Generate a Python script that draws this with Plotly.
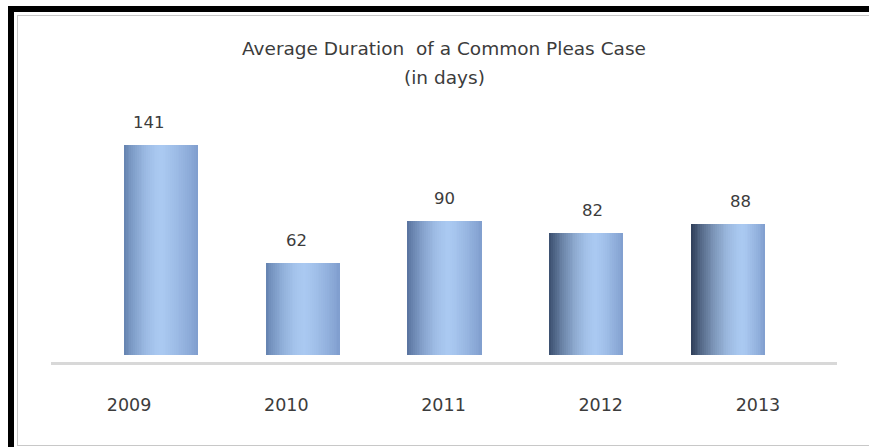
import plotly.graph_objects as go

# ---- data ----
years = ["2009", "2010", "2011", "2012", "2013"]
durations = [141, 62, 90, 82, 88]
title_line1 = "Average Duration  of a Common Pleas Case"
title_line2 = "(in days)"

# ---- geometry helpers (pixel -> paper) ----
W_FIG, H_FIG = 869, 447


def px(x):
    return x / W_FIG


def py(y):
    return 1 - y / H_FIG


FONT = "DejaVu Sans"
TXT = "#3c3c3c"

# ---- cylinder-like shading for bars ----
bar_width = 0.522
n_strips = 40
left_cols = [(100, 130, 175), (100, 130, 175), (88, 114, 158), (58, 78, 110), (46, 62, 88)]
highlight = (170, 201, 241)
right_col = (128, 158, 206)
hl_pos = [0.5, 0.52, 0.56, 0.63, 0.7]


def mix(a, b, t):
    return tuple(a[k] + (b[k] - a[k]) * t for k in range(3))


def strip_color(i, t):
    h = hl_pos[i]
    if t <= h:
        s = t / h
        s = 1 - (1 - s) ** 1.7
        c = mix(left_cols[i], highlight, s)
    else:
        s = (t - h) / (1 - h)
        c = mix(highlight, right_col, s ** 1.3)
    return "rgb(%d,%d,%d)" % tuple(int(round(v)) for v in c)


fig = go.Figure()
for j in range(n_strips):
    t = (j + 0.5) / n_strips
    off = -bar_width / 2 + j * bar_width / n_strips
    wid = bar_width - j * bar_width / n_strips
    fig.add_trace(go.Bar(
        x=years, y=durations, offset=off, width=wid,
        marker=dict(color=[strip_color(i, t) for i in range(len(years))],
                    line=dict(width=0), opacity=1),
        hoverinfo="skip", showlegend=False,
    ))

# invisible trace to carry the category axis for the labels
fig.add_trace(go.Scatter(
    x=years, y=durations, xaxis="x2", yaxis="y", mode="markers",
    marker=dict(opacity=0), hoverinfo="skip", showlegend=False,
))

# data labels (category index used for x, since the names look numeric)
annotations = []
for i, v in enumerate(durations):
    annotations.append(dict(
        x=i, y=v, xref="x", yref="y", text=str(v), showarrow=False,
        yshift=22, xshift=(i - 2) * 6, yanchor="middle",
        font=dict(family=FONT, size=16.5, color=TXT),
    ))
annotations.append(dict(x=px(444), y=py(49), xref="paper", yref="paper",
                        text=title_line1, showarrow=False, yanchor="middle",
                        font=dict(family=FONT, size=18.5, color=TXT)))
annotations.append(dict(x=px(444), y=py(78), xref="paper", yref="paper",
                        text=title_line2, showarrow=False, yanchor="middle",
                        font=dict(family=FONT, size=18.5, color=TXT)))

shapes = [
    # outer black frame (top and left)
    dict(type="line", xref="paper", yref="paper", x0=px(8), x1=px(875),
         y0=py(9), y1=py(9), line=dict(color="black", width=6)),
    dict(type="line", xref="paper", yref="paper", x0=px(11), x1=px(11),
         y0=py(6), y1=py(452), line=dict(color="black", width=6)),
    # thin gray inner frame
    dict(type="line", xref="paper", yref="paper", x0=px(17), x1=px(875),
         y0=py(15.5), y1=py(15.5), line=dict(color="#c8c8c8", width=1)),
    dict(type="line", xref="paper", yref="paper", x0=px(17.5), x1=px(17.5),
         y0=py(15), y1=py(445), line=dict(color="#c8c8c8", width=1)),
    dict(type="line", xref="paper", yref="paper", x0=px(17), x1=px(875),
         y0=py(445.5), y1=py(445.5), line=dict(color="#c8c8c8", width=1)),
]

hidden = dict(showticklabels=False, showgrid=False, zeroline=False,
              showline=False, ticks="", fixedrange=True)

fig.update_layout(
    width=W_FIG, height=H_FIG,
    margin=dict(l=0, r=0, t=0, b=0),
    paper_bgcolor="white", plot_bgcolor="rgba(0,0,0,0)",
    barmode="overlay", bargap=0,
    xaxis=dict(domain=[px(90), px(799)], range=[-0.5, 4.5], type="category",
               anchor="y", **hidden),
    xaxis2=dict(domain=[px(50.5), px(836.5)], range=[-0.5, 4.5], type="category",
                anchor="free", position=py(363), showline=True,
                linecolor="#d8d8d8", linewidth=3, showgrid=False, zeroline=False,
                ticks="", ticklabelstandoff=25, fixedrange=True,
                tickfont=dict(family=FONT, size=17.5, color=TXT)),
    yaxis=dict(domain=[0, 1], range=[-61.7, 238.3], anchor="x", **hidden),
    annotations=annotations,
    shapes=shapes,
    showlegend=False,
)

fig.write_html(
    "out.html",
    config={"displayModeBar": False},
    post_script="document.body.style.margin='0';document.body.style.padding='0';"
                "document.documentElement.style.margin='0';",
)
